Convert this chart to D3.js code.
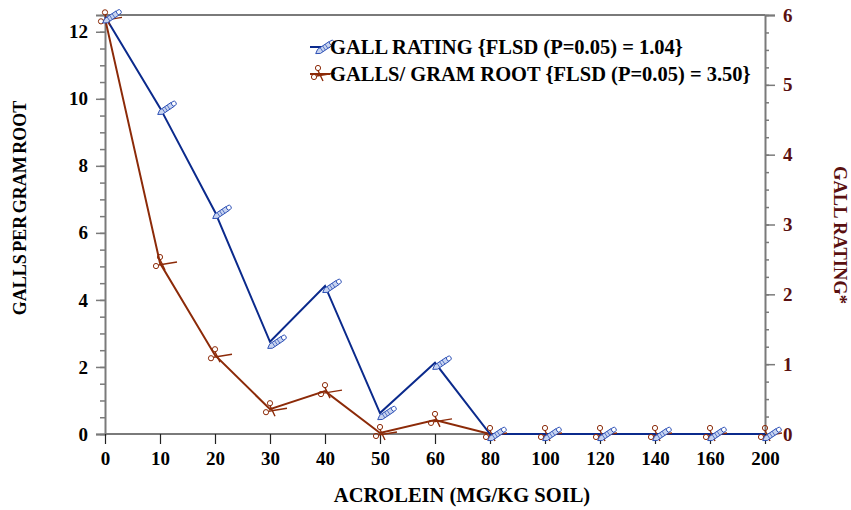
<!DOCTYPE html>
<html>
<head>
<meta charset="utf-8">
<script src="https://cdn.jsdelivr.net/npm/d3@7"></script>
<style>
  body { margin: 0; background: #fff; }
  text { font-family: "Liberation Serif", "Times New Roman", serif; font-weight: bold; }
</style>
</head>
<body>
<svg id="chart" width="851" height="510"></svg>
<script>
// acrolein doses (categorical x axis)
const doses = ["0", "10", "20", "30", "40", "50", "60", "80", "100", "120", "140", "160", "200"];
// galls per gram root (left axis)
const gallsPerGram = [12.4, 5.1, 2.35, 0.74, 1.28, 0.03, 0.42, 0, 0, 0, 0, 0, 0];
// gall rating (right axis)
const gallRating = [5.98, 4.67, 3.18, 1.32, 2.12, 0.3, 1.02, 0, 0, 0, 0, 0, 0];

const leftTicks = [0, 2, 4, 6, 8, 10, 12];
const rightTicks = [0, 1, 2, 3, 4, 5, 6];

const legendLabels = [
  "GALL RATING {FLSD (P=0.05) = 1.04}",
  "GALLS/ GRAM ROOT {FLSD (P=0.05) = 3.50}"
];

const blue = "#0b2a8c", red = "#8c2a08", maroon = "#5a1010", axisGray = "#7a7a7a";

const svg = d3.select("#chart");
const plotL = 105, plotR = 765, plotT = 15, plotB = 434;

const x = d3.scalePoint().domain(doses).range([plotL, plotR]);
const yL = d3.scaleLinear().domain([0, 12.5]).range([plotB, plotT]);
const yR = d3.scaleLinear().domain([0, 6]).range([plotB, plotT]);

// top frame line
svg.append("line")
  .attr("x1", plotL).attr("x2", plotR).attr("y1", plotT).attr("y2", plotT)
  .attr("stroke", axisGray).attr("stroke-width", 2);

// left axis: minor ticks then major ticks with labels
const gL = svg.append("g").attr("transform", `translate(${plotL},0)`);
gL.append("g").call(d3.axisLeft(yL).tickValues(d3.range(0, 12.51, 0.5)).tickSize(5).tickFormat(""))
  .call(g => g.select(".domain").remove())
  .selectAll("line").attr("stroke", axisGray).attr("stroke-width", 1.5);
gL.append("g").call(d3.axisLeft(yL).tickValues(leftTicks).tickSize(9).tickPadding(8).tickFormat(d3.format("d")))
  .call(g => g.select(".domain").attr("stroke", axisGray).attr("stroke-width", 2))
  .call(g => g.selectAll("line").attr("stroke", axisGray).attr("stroke-width", 1.5))
  .call(g => g.selectAll("text").attr("font-size", 19).attr("fill", "#000")
    .attr("font-family", "Liberation Serif").attr("font-weight", "bold"));

// right axis
const gR = svg.append("g").attr("transform", `translate(${plotR},0)`);
gR.append("g").call(d3.axisRight(yR).tickValues(d3.range(0, 6.01, 0.25)).tickSize(4).tickFormat(""))
  .call(g => g.select(".domain").remove())
  .selectAll("line").attr("stroke", axisGray).attr("stroke-width", 1.5);
gR.append("g").call(d3.axisRight(yR).tickValues(rightTicks).tickSize(10).tickPadding(8).tickFormat(d3.format("d")))
  .call(g => g.select(".domain").attr("stroke", axisGray).attr("stroke-width", 2))
  .call(g => g.selectAll("line").attr("stroke", axisGray).attr("stroke-width", 1.5))
  .call(g => g.selectAll("text").attr("font-size", 19).attr("fill", maroon)
    .attr("font-family", "Liberation Serif").attr("font-weight", "bold"));

// bottom axis
const gB = svg.append("g").attr("transform", `translate(0,${plotB})`);
gB.call(d3.axisBottom(x).tickSize(10).tickPadding(8))
  .call(g => g.select(".domain").attr("stroke", axisGray).attr("stroke-width", 2).attr("d", `M${plotL},0H${plotR}`))
  .call(g => g.selectAll("line").attr("stroke", "#222").attr("stroke-width", 1.2))
  .call(g => g.selectAll("text").attr("font-size", 19).attr("fill", "#000")
    .attr("font-family", "Liberation Serif").attr("font-weight", "bold"));

// axis titles
svg.append("text").attr("x", 462).attr("y", 502).attr("text-anchor", "middle")
  .attr("font-size", 20.5).attr("fill", "#000").text("ACROLEIN (MG/KG SOIL)");
svg.append("text").attr("transform", "translate(26,208) rotate(-90)").attr("text-anchor", "middle")
  .attr("font-size", 18).attr("fill", "#000").attr("word-spacing", -2).text("GALLS PER GRAM ROOT");
svg.append("text").attr("transform", "translate(834,235) rotate(90)").attr("text-anchor", "middle")
  .attr("font-size", 18.5).attr("fill", maroon).text("GALL RATING*");

// markers
function pencil(g, color) {
  const p = g.append("g").attr("transform", "translate(6,1) rotate(-34)");
  p.append("path").attr("d", "M-10,0 L-6,-2.5 L8,-2.5 L8,2.5 L-6,2.5 Z")
    .attr("fill", "#c8d4f0").attr("stroke", color).attr("stroke-width", 0.9);
  p.append("path").attr("d", "M-3,-2.5V2.5M0,-2.5V2.5M3,-2.5V2.5")
    .attr("stroke", color).attr("stroke-width", 0.7);
  p.append("circle").attr("cx", 9.5).attr("cy", 0).attr("r", 2.4)
    .attr("fill", "#fff").attr("stroke", color).attr("stroke-width", 0.9);
}
function scissors(g, color) {
  g.append("circle").attr("cx", 0).attr("cy", -6).attr("r", 2.6)
    .attr("fill", "none").attr("stroke", color).attr("stroke-width", 1);
  g.append("circle").attr("cx", -4).attr("cy", 3).attr("r", 2.6)
    .attr("fill", "none").attr("stroke", color).attr("stroke-width", 1);
  g.append("path").attr("d", "M0,-3.5 L5,7 M-1.5,2 L17,-1")
    .attr("stroke", color).attr("stroke-width", 1.4).attr("fill", "none");
}

const line = d3.line();

// series lines
svg.append("path")
  .attr("d", line(doses.map((d, i) => [x(d), yL(gallsPerGram[i])])))
  .attr("fill", "none").attr("stroke", red).attr("stroke-width", 2);
svg.append("path")
  .attr("d", line(doses.map((d, i) => [x(d), yR(gallRating[i])])))
  .attr("fill", "none").attr("stroke", blue).attr("stroke-width", 2);

svg.append("g").selectAll("g").data(doses).join("g")
  .attr("transform", (d, i) => `translate(${x(d)},${yL(gallsPerGram[i])})`)
  .each(function () { scissors(d3.select(this), red); });
svg.append("g").selectAll("g").data(doses).join("g")
  .attr("transform", (d, i) => `translate(${x(d)},${yR(gallRating[i])})`)
  .each(function () { pencil(d3.select(this), "#2c4fb5"); });

// legend
const series = [{ color: blue, marker: pencil, mc: "#2c4fb5" }, { color: red, marker: scissors, mc: red }];
const lg = svg.append("g").attr("transform", "translate(310,47)");
legendLabels.forEach((lab, i) => {
  const row = lg.append("g").attr("transform", `translate(0,${i * 27})`);
  row.append("line").attr("x1", 0).attr("x2", 20).attr("y1", 0).attr("y2", 0)
    .attr("stroke", series[i].color).attr("stroke-width", 2);
  const m = row.append("g").attr("transform", "translate(8,0)");
  series[i].marker(m, series[i].mc);
  row.append("text").attr("x", 20).attr("y", 7).attr("font-size", 20.5).attr("fill", "#000").text(lab);
});
</script>
</body>
</html>
